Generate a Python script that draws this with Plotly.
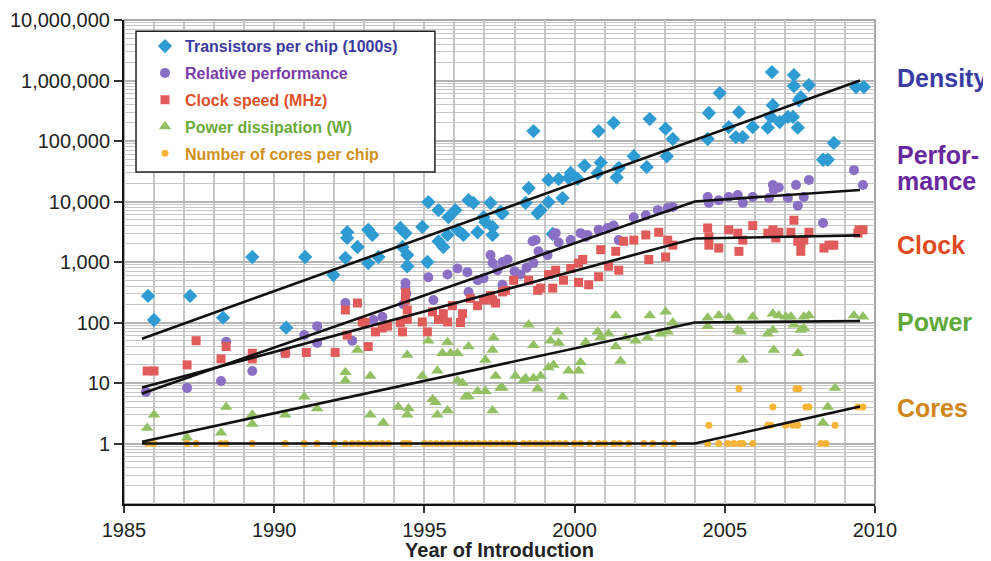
import plotly.graph_objects as go

# ---------------- data (year, value) ----------------
transistors = [
    (1985.8, 275), (1986.0, 110), (1987.2, 275), (1988.3, 120), (1989.27, 1210), (1990.4, 82),
    (1991.03, 1210), (1991.97, 610), (1992.37, 1170), (1992.43, 3100), (1992.43, 2500), (1992.77, 1770),
    (1993.13, 3400), (1993.27, 2800), (1993.13, 960), (1993.47, 1210), (1994.2, 3650), (1994.37, 3000),
    (1994.27, 1770), (1994.43, 1300), (1994.43, 850), (1994.93, 3800), (1995.1, 1000), (1995.13, 9800),
    (1995.47, 7200), (1995.47, 2200), (1995.63, 1770), (1995.8, 5500), (1995.77, 2800), (1996.03, 7200),
    (1996.1, 3400), (1996.3, 2800), (1996.47, 10500), (1996.63, 9500), (1996.77, 3100), (1996.97, 5500),
    (1997.03, 4600), (1997.2, 9500), (1997.27, 3800), (1997.27, 2800), (1997.53, 6700), (1997.6, 6400),
    (1998.37, 9500), (1998.47, 16700), (1998.77, 6400), (1998.87, 7200), (1999.13, 9800), (1999.13, 22700),
    (1999.27, 2900), (1999.47, 23600), (1999.6, 11400), (1999.8, 24500), (1999.87, 29600), (2000.1, 23600),
    (2000.33, 39000), (2000.77, 29600), (2000.87, 44000), (2001.4, 25000), (2001.47, 36000), (2001.97, 56000),
    (2002.4, 37000), (2003.07, 56000), (1998.63, 146000), (2000.8, 146000), (2001.3, 200000), (2002.5, 230000),
    (2003.03, 160000), (2003.27, 108000), (2004.43, 108000), (2004.47, 290000), (2004.83, 620000),
    (2005.13, 170000), (2005.37, 116000), (2005.47, 300000), (2005.6, 116000), (2005.93, 170000),
    (2006.43, 166000), (2006.53, 250000), (2006.57, 1380000), (2006.6, 390000), (2006.83, 206000),
    (2007.1, 250000), (2007.27, 250000), (2007.3, 1230000), (2007.3, 810000), (2007.43, 166000),
    (2007.47, 470000), (2007.53, 530000), (2007.8, 840000), (2008.27, 49000), (2008.43, 49000),
    (2008.63, 93000), (2009.37, 780000), (2009.63, 780000),
]

performance = [
    (1985.73, 7.1), (1987.1, 8.3), (1988.23, 10.8), (1988.4, 48), (1989.27, 15.8), (1990.37, 31),
    (1991.0, 62), (1991.43, 87), (1991.43, 46), (1992.37, 210), (1992.6, 50), (1993.3, 110),
    (1993.6, 124), (1994.3, 200), (1994.37, 450), (1994.37, 370), (1994.4, 300), (1995.13, 560),
    (1995.3, 235), (1995.77, 620), (1996.1, 780), (1996.43, 680), (1996.47, 320), (1996.77, 500),
    (1996.97, 540), (1997.2, 1300), (1997.27, 960), (1997.43, 730), (1997.6, 420), (1997.6, 1000),
    (1997.77, 1100), (1998.0, 700), (1998.2, 620), (1998.4, 800), (1998.6, 2200), (1998.7, 2300),
    (1998.63, 960), (1998.8, 1500), (1999.1, 1300), (1999.3, 2800), (1999.37, 3000), (1999.47, 2100),
    (1999.87, 2300), (2000.2, 3000), (2000.37, 2600), (2000.43, 2800), (2000.8, 3400), (2001.1, 3650),
    (2001.3, 4000), (2001.47, 2300), (2001.97, 5500), (2002.37, 5900), (2002.77, 7200), (2003.1, 7800),
    (2003.27, 8100), (2004.43, 11900), (2004.47, 9500), (2004.8, 10500), (2005.13, 11900), (2005.43, 12800),
    (2005.6, 9500), (2005.93, 11900), (2006.47, 11400), (2006.6, 18700), (2006.8, 17000), (2006.63, 15600),
    (2007.1, 11400), (2007.37, 18700), (2007.43, 8500), (2007.63, 11900), (2007.8, 22700), (2008.27, 4400),
    (2009.3, 33000), (2009.6, 18700),
]

clock = [
    (1985.77, 15.8), (1986.0, 15.8), (1987.1, 19.9), (1987.4, 50), (1988.23, 25), (1988.4, 40),
    (1989.27, 31), (1989.27, 25), (1990.37, 31), (1991.07, 32), (1992.03, 32), (1992.37, 161),
    (1992.43, 62), (1992.77, 210), (1992.93, 102), (1993.03, 100), (1993.13, 40), (1993.37, 70),
    (1993.6, 81), (1993.77, 87), (1994.2, 100), (1994.27, 70), (1994.37, 310), (1994.37, 235),
    (1994.43, 161), (1994.43, 112), (1994.93, 102), (1995.1, 70), (1995.27, 150), (1995.47, 112),
    (1995.63, 140), (1995.77, 102), (1995.93, 190), (1996.2, 100), (1996.27, 140), (1996.53, 250),
    (1996.77, 190), (1996.97, 235), (1997.2, 280), (1997.27, 235), (1997.37, 210), (1997.6, 320),
    (1997.7, 340), (1997.97, 500), (1998.47, 500), (1998.77, 340), (1998.87, 370), (1999.13, 620),
    (1999.27, 370), (1999.37, 730), (1999.63, 500), (1999.87, 780), (2000.13, 460), (2000.13, 960),
    (2000.27, 1100), (2000.47, 420), (2000.8, 570), (2000.87, 1600), (2001.13, 850), (2001.37, 1500),
    (2001.47, 730), (2001.63, 2200), (2001.97, 2300), (2002.37, 2800), (2002.47, 1100), (2002.8, 3100),
    (2003.03, 1210), (2003.1, 2300), (2003.27, 1900), (2004.43, 3650), (2004.47, 2600), (2004.47, 1900),
    (2004.8, 1700), (2005.13, 3400), (2005.43, 3000), (2005.47, 1500), (2005.6, 2300), (2005.93, 4000),
    (2006.43, 3000), (2006.6, 3400), (2006.7, 2500), (2006.8, 3100), (2007.2, 3100), (2007.3, 4900),
    (2007.43, 2200), (2007.53, 2100), (2007.53, 1500), (2007.63, 2300), (2007.8, 3100), (2008.3, 1700),
    (2008.47, 1900), (2008.63, 1900), (2009.43, 3000), (2009.47, 3400), (2009.6, 3400),
]

power = [
    (1985.77, 1.8), (1986.0, 3.0), (1987.1, 1.25), (1988.23, 1.5), (1988.4, 4.0), (1989.27, 2.1),
    (1989.27, 3.0), (1990.37, 3.0), (1991.0, 5.9), (1991.43, 3.8), (1992.37, 15), (1992.37, 11),
    (1992.77, 35), (1993.2, 13), (1993.2, 3.0), (1993.63, 2.2), (1994.13, 4.0), (1994.43, 29),
    (1994.47, 3.8), (1994.43, 3.0), (1994.93, 13), (1995.13, 50), (1995.27, 5.4), (1995.37, 4.8),
    (1995.43, 16), (1995.43, 3.0), (1995.6, 31), (1995.77, 47), (1995.77, 3.5), (1995.87, 31),
    (1996.1, 31), (1996.1, 11), (1996.27, 10), (1996.37, 5.9), (1996.47, 40), (1996.47, 6.0),
    (1996.77, 7.3), (1997.03, 7.3), (1997.03, 24), (1997.27, 3.5), (1997.27, 35), (1997.3, 56),
    (1997.37, 13), (1997.53, 8.3), (1997.6, 8.3), (1998.03, 13), (1998.3, 11), (1998.47, 92),
    (1998.63, 42), (1998.37, 12), (1998.63, 12), (1998.77, 8.0), (1998.87, 13), (1999.13, 18),
    (1999.2, 50), (1999.3, 19.9), (1999.43, 70), (1999.47, 46), (1999.6, 5.9), (1999.8, 16),
    (2000.13, 16), (2000.2, 22), (2000.37, 47), (2000.77, 70), (2000.87, 57), (2001.13, 65),
    (2001.37, 130), (2001.37, 40), (2001.53, 23), (2001.7, 56), (2002.03, 50), (2002.43, 56),
    (2002.5, 130), (2002.87, 65), (2003.03, 150), (2003.1, 70), (2003.27, 100), (2004.43, 120),
    (2004.43, 87), (2004.8, 130), (2005.13, 120), (2005.43, 75), (2005.53, 70), (2005.6, 24),
    (2005.93, 124), (2006.43, 65), (2006.6, 140), (2006.6, 75), (2006.63, 35), (2006.8, 130),
    (2007.03, 124), (2007.2, 124), (2007.3, 92), (2007.43, 31), (2007.53, 75), (2007.63, 124),
    (2007.8, 130), (2007.63, 80), (2008.27, 2.2), (2008.43, 4.0), (2008.67, 8.3), (2009.3, 130),
    (2009.6, 124),
]

cores_single_years = [
    1985.8, 1986.0, 1987.1, 1987.4, 1988.23, 1988.4, 1989.27, 1990.37, 1991.0, 1991.43, 1992.0,
    1992.37, 1992.6, 1992.8, 1993.0, 1993.2, 1993.4, 1993.6, 1993.8, 1994.3, 1994.4, 1994.5, 1995.0,
    1995.2, 1995.4, 1995.6, 1995.8, 1996.0, 1996.2, 1996.4, 1996.6, 1996.8, 1997.0, 1997.2, 1997.4,
    1997.6, 1997.8, 1998.0, 1998.3, 1998.5, 1998.7, 1998.9, 1999.1, 1999.3, 1999.5, 1999.7, 2000.0,
    2000.2, 2000.5, 2000.8, 2001.0, 2001.3, 2001.5, 2001.8, 2002.3, 2002.6, 2003.0, 2003.3,
    2004.43, 2004.8, 2005.1, 2005.3, 2005.5, 2005.6, 2005.93, 2008.2, 2008.37,
]
cores_multi = [
    (2004.47, 2), (2005.47, 8), (2006.43, 2), (2006.53, 2), (2006.6, 4), (2007.03, 2), (2007.27, 2),
    (2007.37, 8), (2007.47, 8), (2007.43, 2), (2007.7, 4), (2007.8, 4), (2008.67, 2), (2009.43, 4),
    (2009.6, 4),
]

# trend lines (year, value)
trend_density = [(1985.6, 54), (2009.5, 1000000)]
trend_perf = [(1985.6, 6.7), (2004.0, 10000), (2009.5, 15500)]
trend_clock = [(1985.6, 8.4), (2004.0, 2450), (2009.5, 2750)]
trend_power = [(1985.6, 1.07), (2004.0, 100), (2009.5, 106)]
trend_cores = [(1985.6, 1.0), (2004.0, 1.0), (2009.5, 4.1)]

y_tickvals = [1, 10, 100, 1000, 10000, 100000, 1000000, 10000000]
y_ticktext = ["1", "10", "100", "1,000", "10,000", "100,000", "1,000,000", "10,000,000"]
x_tickvals = [1985, 1990, 1995, 2000, 2005, 2010]

series = [
    ("Transistors per chip (1000s)", transistors, "#2f9bd3", "diamond", 11, "#3a3aa0"),
    ("Relative performance", performance, "#8b6fc4", "circle", 10, "#7a3aa8"),
    ("Clock speed (MHz)", clock, "#e15b5b", "square", 9, "#e0502a"),
    ("Power dissipation (W)", power, "#92c062", "triangle-up", 11, "#6aaa3a"),
]

fig = go.Figure()
for i, (name, pts, col, sym, sz, tcol) in enumerate(series):
    fig.add_trace(go.Scatter(
        x=[p[0] for p in pts], y=[p[1] for p in pts], mode="markers",
        name=f"<span style='color:{tcol}'><b>{name}</b></span>",
        legendgroup=f"g{i}",
        marker=dict(color=col, symbol=sym, size=sz, line=dict(width=0)),
    ))

cores_x = cores_single_years + [p[0] for p in cores_multi]
cores_y = [1] * len(cores_single_years) + [p[1] for p in cores_multi]
fig.add_trace(go.Scatter(
    x=cores_x, y=cores_y, mode="markers",
    name="<span style='color:#d0901a'><b>Number of cores per chip</b></span>",
    legendgroup="g4",
    marker=dict(color="#f7b538", symbol="circle", size=7, line=dict(width=0)),
))

for tr in [trend_density, trend_perf, trend_clock, trend_power, trend_cores]:
    fig.add_trace(go.Scatter(
        x=[p[0] for p in tr], y=[p[1] for p in tr], mode="lines",
        line=dict(color="#111111", width=2.6), showlegend=False, hoverinfo="skip",
    ))

grid_col = "#c6c6c6"
fig.update_layout(
    width=983, height=553,
    margin=dict(l=116, r=116, t=12, b=57),
    paper_bgcolor="white", plot_bgcolor="white",
    font=dict(family="Liberation Sans, Arial, sans-serif", color="#222222"),
    showlegend=True,
    legend=dict(
        x=0.028, y=0.981, xanchor="left", yanchor="top",
        bgcolor="rgba(0,0,0,0)", borderwidth=0,
        font=dict(size=16), tracegroupgap=3, traceorder="grouped",
        itemsizing="trace",
    ),
    xaxis=dict(
        range=[1985, 2010], tickmode="array", tickvals=x_tickvals, automargin=False,
        showgrid=True, gridcolor=grid_col, gridwidth=1.5,
        minor=dict(dtick=1, tick0=1985, showgrid=True, gridcolor=grid_col, gridwidth=1.5),
        showline=True, linecolor="#111111", linewidth=2,
        ticks="outside", ticklen=7, tickcolor="#333333", tickwidth=1.5,
        tickfont=dict(size=20, color="#222222"),
        title=dict(text="<b>Year of Introduction</b>", font=dict(size=20, color="#222222"), standoff=11),
        zeroline=False,
    ),
    yaxis=dict(
        type="log", range=[-1, 7], tickmode="array", tickvals=y_tickvals, ticktext=y_ticktext,
        automargin=False,
        showgrid=True, gridcolor="#b4b4b4", gridwidth=1.5,
        minor=dict(dtick="D1", showgrid=True, gridcolor=grid_col, gridwidth=1.2),
        showline=True, linecolor="#111111", linewidth=2,
        ticks="outside", ticklen=8, tickcolor="#333333", tickwidth=1.5,
        tickfont=dict(size=20, color="#222222"),
        zeroline=False,
    ),
    shapes=[
        dict(type="rect", xref="paper", yref="paper", x0=0, x1=1, y0=0, y1=1,
             line=dict(color="#8a8a8a", width=1.5), fillcolor="rgba(0,0,0,0)", layer="below"),
        dict(type="rect", xref="paper", yref="paper", x0=0.016, x1=0.414, y0=0.686, y1=0.977,
             line=dict(color="#222222", width=1.5), fillcolor="white", layer="above"),
    ],
)

labels = [
    ("Density", 0.880, "#3b3ba6"),
    ("Perfor-", 0.721, "#6a28a0"),
    ("mance", 0.667, "#6a28a0"),
    ("Clock", 0.535, "#e04a1e"),
    ("Power", 0.376, "#5fa83a"),
    ("Cores", 0.198, "#d0861a"),
]
for txt, yy, col in labels:
    fig.add_annotation(
        x=1.027, y=yy, xref="paper", yref="paper", xanchor="left", yanchor="middle",
        text=f"<b>{txt}</b>", showarrow=False, font=dict(size=25, color=col),
    )

fig.write_html("out.html")
